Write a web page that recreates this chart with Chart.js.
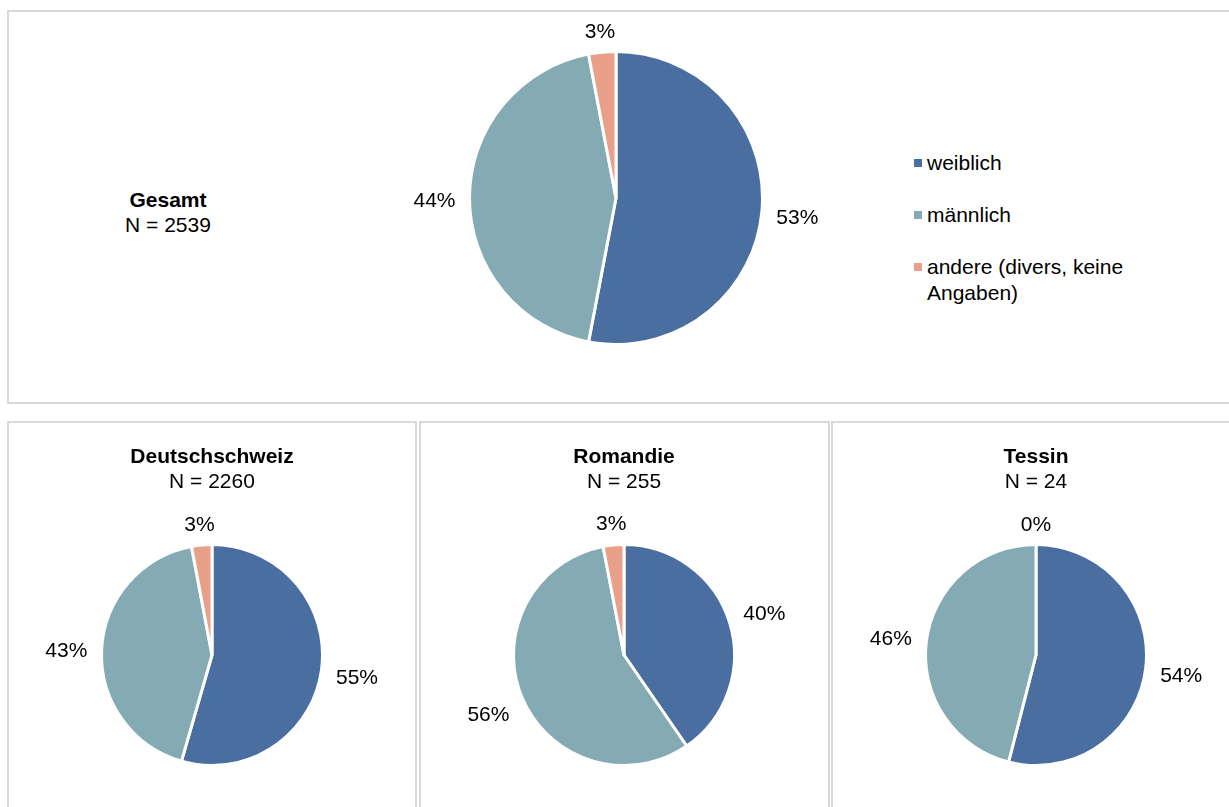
<!DOCTYPE html>
<html lang="de">
<head>
<meta charset="UTF-8">
<title>Geschlecht nach Sprachregion</title>
<script src="https://cdn.jsdelivr.net/npm/chart.js"></script>
<style>
  html, body { margin: 0; padding: 0; background: #fff; }
  body { width: 1229px; height: 807px; position: relative; overflow: hidden;
         font-family: "Liberation Sans", Arial, sans-serif; color: #000; }
  .panel { position: absolute; box-sizing: border-box; border: 2px solid #d9d9d9; }
  .pie { position: absolute; width: 460px; height: 460px; }
  .title { position: absolute; width: 300px; text-align: center; font-size: 21px; line-height: 25px; }
  .title b { display: block; }
  .legend { position: absolute; left: 914px; top: 150px; font-size: 21px; line-height: 26px; }
  .legend div { position: relative; padding-left: 13px; width: 215px; margin-bottom: 26px; }
  .legend span { position: absolute; left: 0; top: 9px; width: 8px; height: 8px; }
</style>
</head>
<body>
<div class="panel" style="left:7px;top:10px;width:1240px;height:394px"></div>
<div class="panel" style="left:7px;top:421px;width:410px;height:400px"></div>
<div class="panel" style="left:419px;top:421px;width:411px;height:400px"></div>
<div class="panel" style="left:831px;top:421px;width:420px;height:400px"></div>

<div class="pie" style="left:385.5px;top:-32px"><canvas id="pieGesamt"></canvas></div>
<div class="pie" style="left:-18px;top:425px"><canvas id="pieDeutsch"></canvas></div>
<div class="pie" style="left:394px;top:425px"><canvas id="pieRomandie"></canvas></div>
<div class="pie" style="left:806px;top:425px"><canvas id="pieTessin"></canvas></div>

<div id="titles"></div>
<div class="legend" id="legend"></div>

<script>
const regions = ['Gesamt', 'Deutschschweiz', 'Romandie', 'Tessin'];
const sampleSizes = [2539, 2260, 255, 24];
const categories = ['weiblich', 'männlich', 'andere (divers, keine Angaben)'];
const colors = ['#4a6ea0', '#84aab4', '#e8a089'];

// Anteile in Prozent
const gesamtPct = [53, 44, 3];
const deutschPct = [55, 43, 3];
const romandiePct = [40, 56, 3];
const tessinPct = [54, 46, 0];

// title positions (centre x, top y) and pie radius per region
const titlePos = [[168, 187], [212, 443], [624, 443], [1036, 443]];
const radii = [146.5, 110.5, 110.5, 110.5];

// percentage labels placed outside each slice
const outsideLabels = {
  id: 'outsideLabels',
  afterDatasetsDraw(chart) {
    const ctx = chart.ctx;
    const ds = chart.data.datasets[0];
    chart.getDatasetMeta(0).data.forEach((arc, i) => {
      const p = arc.getProps(['x', 'y', 'startAngle', 'endAngle', 'outerRadius'], true);
      const mid = (p.startAngle + p.endAngle) / 2;
      const text = ds.data[i] + '%';
      ctx.save();
      ctx.font = '21px "Liberation Sans", Arial, sans-serif';
      ctx.fillStyle = '#000';
      ctx.textAlign = 'center';
      ctx.textBaseline = 'middle';
      const w = ctx.measureText(text).width;
      const c = Math.cos(mid), s = Math.sin(mid);
      const dist = p.outerRadius + 14 + Math.abs(c) * w / 2 + Math.abs(s) * 8;
      ctx.fillText(text, p.x + c * dist, p.y + s * dist + 3);
      ctx.restore();
    });
  }
};

function drawPie(id, values, radius) {
  new Chart(document.getElementById(id), {
    type: 'pie',
    data: {
      labels: categories,
      datasets: [{
        data: values,
        backgroundColor: colors,
        borderColor: '#ffffff',
        borderWidth: 3,
        hoverOffset: 0
      }]
    },
    options: {
      responsive: true,
      maintainAspectRatio: false,
      animation: false,
      events: [],
      radius: radius,
      layout: { padding: 0 },
      plugins: { legend: { display: false }, tooltip: { enabled: false } }
    },
    plugins: [outsideLabels]
  });
}

drawPie('pieGesamt', gesamtPct, radii[0]);
drawPie('pieDeutsch', deutschPct, radii[1]);
drawPie('pieRomandie', romandiePct, radii[2]);
drawPie('pieTessin', tessinPct, radii[3]);

const titles = document.getElementById('titles');
regions.forEach((r, i) => {
  const d = document.createElement('div');
  d.className = 'title';
  d.style.left = (titlePos[i][0] - 150) + 'px';
  d.style.top = titlePos[i][1] + 'px';
  d.innerHTML = '<b>' + r + '</b>N = ' + sampleSizes[i];
  titles.appendChild(d);
});

const legend = document.getElementById('legend');
categories.forEach((c, i) => {
  const d = document.createElement('div');
  d.innerHTML = '<span style="background:' + colors[i] + '"></span>' + c;
  legend.appendChild(d);
});
</script>
</body>
</html>
